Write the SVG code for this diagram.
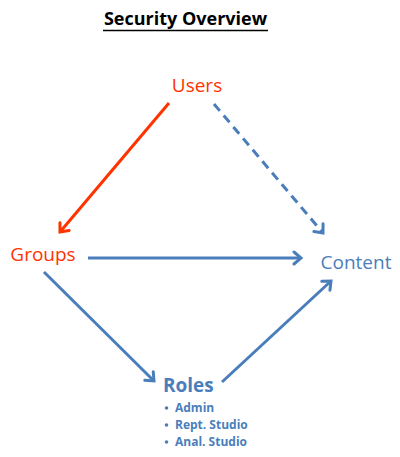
<svg xmlns="http://www.w3.org/2000/svg" width="400" height="457" viewBox="0 0 400 457">
<style>
.t{font-family:"Open Sans","Liberation Sans",sans-serif}
.red{fill:#FF3300}
.blue{fill:#4A7EBB}
.lr{stroke:#FF3300;stroke-width:3;fill:none}
.lb{stroke:#4A7EBB;stroke-width:3;fill:none}
</style>
<defs>
<marker id="ar" markerUnits="userSpaceOnUse" markerWidth="16" markerHeight="16" refX="10" refY="8" orient="auto" viewBox="0 0 16 16">
<path d="M3,2 L10,8 L3,14" stroke="#FF3300" stroke-width="3" fill="none" stroke-linecap="round" stroke-linejoin="miter"/>
</marker>
<marker id="ab" markerUnits="userSpaceOnUse" markerWidth="16" markerHeight="16" refX="10" refY="8" orient="auto" viewBox="0 0 16 16">
<path d="M3,2 L10,8 L3,14" stroke="#4A7EBB" stroke-width="3" fill="none" stroke-linecap="round" stroke-linejoin="miter"/>
</marker>
</defs>
<rect width="400" height="457" fill="#fff"/>
<g id="title">
<text class="t" x="185.5" y="25" text-anchor="middle" font-size="18" font-weight="bold" fill="#000">Security Overview</text>
<line x1="103" y1="30.5" x2="268" y2="30.5" stroke="#000" stroke-width="1.5"/>
</g>
<g id="connectors">
<line class="lr" x1="169" y1="103" x2="60" y2="232" marker-end="url(#ar)"/>
<line class="lb" x1="214" y1="104" x2="323" y2="233" stroke-dasharray="9,6" marker-end="url(#ab)"/>
<line class="lb" x1="88" y1="258" x2="301" y2="258" marker-end="url(#ab)"/>
<line class="lb" x1="44" y1="272" x2="154" y2="381" marker-end="url(#ab)"/>
<line class="lb" x1="222" y1="382" x2="331" y2="281" marker-end="url(#ab)"/>
</g>
<g id="users"><text class="t red" x="197" y="92" text-anchor="middle" font-size="19">Users</text></g>
<g id="groups"><text class="t red" x="43" y="261" text-anchor="middle" font-size="19">Groups</text></g>
<g id="content"><text class="t blue" x="356" y="269" text-anchor="middle" font-size="19">Content</text></g>
<g id="roles">
<text class="t blue" x="163" y="392" font-size="19" font-weight="bold">Roles</text>
<g class="t blue" font-size="12" font-weight="bold">
<circle cx="166.5" cy="408" r="1.8" class="blue"/>
<text x="175" y="412">Admin</text>
<circle cx="166.5" cy="425" r="1.8" class="blue"/>
<text x="175" y="429">Rept. Studio</text>
<circle cx="166.5" cy="442" r="1.8" class="blue"/>
<text x="175" y="446">Anal. Studio</text>
</g>
</g>
</svg>
